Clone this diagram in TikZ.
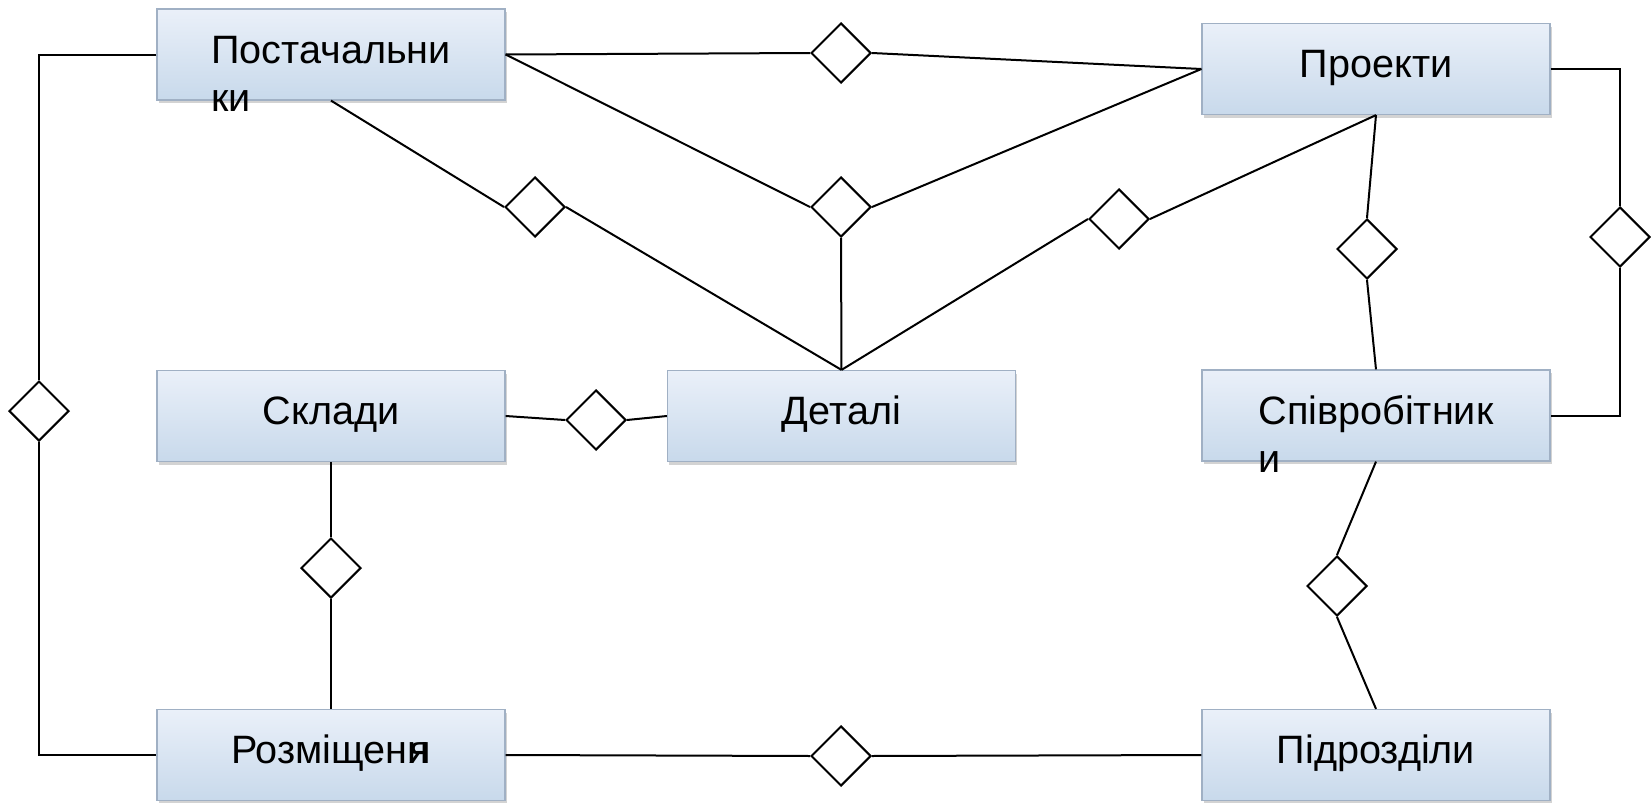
\documentclass[tikz,border=0pt]{standalone}
\usepackage{fontspec}
\setmainfont{Liberation Sans}
\usetikzlibrary{shapes.geometric,shadows}

\definecolor{boxtop}{RGB}{234,240,249}
\definecolor{boxbot}{RGB}{200,217,235}
\definecolor{boxline}{RGB}{160,176,196}

\begin{document}
\begin{tikzpicture}[x=0.5pt,y=-0.5pt,line width=1pt,every node/.style={inner sep=0pt},
  entity/.style={rectangle,draw=boxline,line width=0.6pt,top color=boxtop,bottom color=boxbot,
    minimum width=174pt,minimum height=45.5pt,text height=13.5pt,text depth=5pt,
    font=\fontsize{19.8}{24.2}\selectfont,
    drop shadow={shadow xshift=0.8pt,shadow yshift=-1.6pt,opacity=0.35}},
  rel/.style={diamond,draw=black,fill=white,aspect=1,minimum width=30pt,minimum height=30pt}]
\useasboundingbox (0,0) rectangle (1651,803);
\node (post) at (331,54.5) [entity] {\smash{\begin{tabular}[t]{@{}l@{}}Постачальни\\ки\end{tabular}}\hspace{8pt}};
\node (proj) at (1376,69) [entity] {Проекти};
\node (sklad) at (331,416) [entity] {Склади};
\node (detal) at (841.5,416) [entity] {Деталі};
\node (spiv) at (1376,415.5) [entity] {\smash{\begin{tabular}[t]{@{}l@{}}Співробітник\\и\end{tabular}}};
\node (rozm) at (331,755) [entity] {Розміщенн\kern-0.5em я};
\node (pidr) at (1376,755) [entity] {Підрозділи};
\node (r1) at (841,53) [rel] {};
\node (r2) at (535,207) [rel] {};
\node (r3) at (841,207) [rel] {};
\node (r4) at (1119,219) [rel] {};
\node (r5) at (1367,249) [rel] {};
\node (r6) at (1620,237) [rel] {};
\node (r7) at (39,411) [rel] {};
\node (r8) at (596,420) [rel] {};
\node (r9) at (331,568) [rel] {};
\node (r10) at (1337,586) [rel] {};
\node (r11) at (841,756) [rel] {};
\draw (post.east) -- (r1.west);
\draw (r1.east) -- (proj.west);
\draw (post.east) -- (r3.west);
\draw (r3.east) -- (proj.west);
\draw (r3.south) -- (detal.north);
\draw (post.south) -- (r2.west);
\draw (r2.east) -- (detal.north);
\draw (detal.north) -- (r4.west);
\draw (r4.east) -- (proj.south);
\draw (proj.south) -- (r5.north);
\draw (r5.south) -- (spiv.north);
\draw (proj.east) -| (r6.north);
\draw (r6.south) |- (spiv.east);
\draw (post.west) -| (r7.north);
\draw (r7.south) |- (rozm.west);
\draw (sklad.east) -- (r8.west);
\draw (r8.east) -- (detal.west);
\draw (sklad.south) -- (r9.north);
\draw (r9.south) -- (rozm.north);
\draw (spiv.south) -- (r10.north);
\draw (r10.south) -- (pidr.north);
\draw (rozm.east) -- (r11.west);
\draw (r11.east) -- (pidr.west);
\end{tikzpicture}
\end{document}
